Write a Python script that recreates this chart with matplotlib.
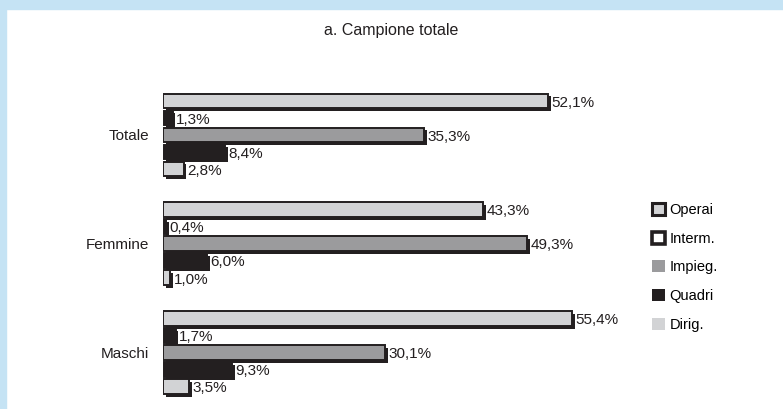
import matplotlib
matplotlib.use("Agg")
import matplotlib.pyplot as plt
import matplotlib.patches as mpatches
import matplotlib.patheffects as pe
import numpy as np

plt.rcParams['font.family'] = ['Liberation Sans Narrow', 'Liberation Sans', 'DejaVu Sans']

# data: percentage by job level within each group
groups = ["Totale", "Femmine", "Maschi"]
levels = ["Operai", "Interm.", "Impieg.", "Quadri", "Dirig."]
operai = [52.1, 43.3, 55.4]
interm = [1.3, 0.4, 1.7]
impieg = [35.3, 49.3, 30.1]
quadri = [8.4, 6.0, 9.3]
dirig = [2.8, 1.0, 3.5]
series = [operai, interm, impieg, quadri, dirig]

faces = ["#d2d3d5", "#231f20", "#9b9b9d", "#231f20", "#d2d3d5"]
dark = "#231f20"

W, H = 783, 409
fig = plt.figure(figsize=(W / 100, H / 100), dpi=100)
fig.patch.set_facecolor("white")

# light blue frame on top and left
fig.patches.append(mpatches.Rectangle((0, 1 - 9 / H), 1, 9 / H, transform=fig.transFigure,
                                      color="#c5e3f4", zorder=0))
fig.patches.append(mpatches.Rectangle((0, 0), 6 / W, 1, transform=fig.transFigure,
                                      color="#c5e3f4", zorder=0))

# axes placed in pixel terms: x from 163px, 7.39 px per percent
x0, px_per = 163, 7.39
xmax = 60
ax_w = xmax * px_per
top_px, bot_px = 80, 405
ax = fig.add_axes([x0 / W, 1 - bot_px / H, ax_w / W, (bot_px - top_px) / H])

bar_px = 17.0
grp_step = 6.4
centers = np.arange(len(groups)) * grp_step
ax.set_ylim((bot_px - 135) / bar_px, (top_px - 135) / bar_px)
ax.set_xlim(0, xmax)

shadow = [pe.SimplePatchShadow(offset=(2, -2), shadow_rgbFace=dark, alpha=1.0), pe.Normal()]

for gi, c in enumerate(centers):
    for li, vals in enumerate(series):
        y = c + (li - 2)
        v = vals[gi]
        b = ax.barh(y, v, height=0.88, color=faces[li], edgecolor=dark, linewidth=1.4)
        for p in b:
            p.set_path_effects(shadow)
        ax.text(v + 0.45, y + 0.1, f"{v:.1f}%".replace(".", ","), va="center", ha="left",
                fontsize=11, color="#231f20")

ax.set_yticks(centers)
ax.set_yticklabels(groups, fontsize=11, color="#231f20")
ax.tick_params(axis="y", length=0, pad=10)
ax.set_xticks([])
for s in ax.spines.values():
    s.set_visible(False)
ax.patch.set_alpha(0)

fig.text(0.5, 1 - 30 / H, "a. Campione totale", ha="center", va="center", fontsize=11.5,
         color="#231f20")

# legend with the original marker styles
handles = [
    mpatches.Patch(facecolor="#d2d3d5", edgecolor=dark, linewidth=2.2),
    mpatches.Patch(facecolor="white", edgecolor=dark, linewidth=2.6),
    mpatches.Patch(facecolor="#9b9b9d", edgecolor="none"),
    mpatches.Patch(facecolor=dark, edgecolor="none"),
    mpatches.Patch(facecolor="#d2d3d5", edgecolor="none"),
]
fig.legend(handles, levels, loc="upper left", bbox_to_anchor=(646 / W, 1 - 197 / H),
           frameon=False, handlelength=0.9, handleheight=0.9, handletextpad=0.3,
           labelspacing=1.0, fontsize=10.5, borderaxespad=0)

fig.savefig("out.png", dpi=100)
